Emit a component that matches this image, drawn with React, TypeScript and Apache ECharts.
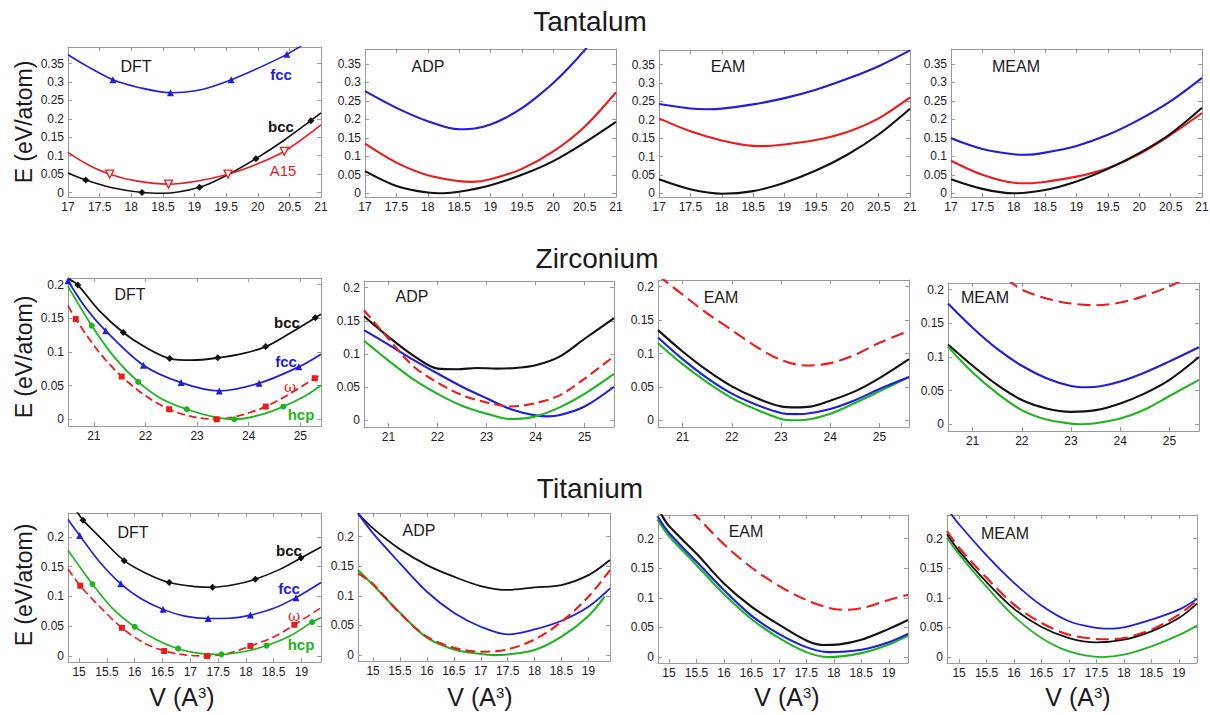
import React, { useEffect, useRef } from 'react';
import * as echarts from 'echarts';

type Pt = [number, number];

// ---------------- Tantalum ----------------
const taDftFcc: Pt[] = [[17, 0.374], [17.3, 0.343], [17.71, 0.306], [18.1, 0.286], [18.62, 0.271], [19.1, 0.279], [19.58, 0.306], [20, 0.337], [20.46, 0.375], [20.75, 0.405]];
const taDftFccMk: Pt[] = [[17.71, 0.306], [18.62, 0.271], [19.58, 0.306], [20.46, 0.375]];
const taDftBcc: Pt[] = [[17, 0.053], [17.28, 0.034], [17.7, 0.013], [18.17, 0.0], [18.5, -0.002], [19.08, 0.0145], [19.5, 0.046], [19.97, 0.092], [20.4, 0.14], [20.84, 0.195], [21, 0.216]];
const taDftBccMk: Pt[] = [[17.28, 0.034], [18.17, 0.0], [19.08, 0.0145], [19.97, 0.092], [20.84, 0.195]];
const taDftA15: Pt[] = [[17, 0.109], [17.3, 0.077], [17.66, 0.05], [18.1, 0.031], [18.59, 0.023], [19.0, 0.03], [19.53, 0.05], [20, 0.078], [20.42, 0.112], [21, 0.184]];
const taDftA15Mk: Pt[] = [[17.66, 0.05], [18.59, 0.023], [19.53, 0.05], [20.42, 0.112]];

const taAdpFcc: Pt[] = [[17, 0.276], [17.5, 0.231], [18, 0.195], [18.5, 0.173], [18.75, 0.175], [19, 0.186], [19.25, 0.205], [19.5, 0.23], [19.75, 0.262], [20, 0.298], [20.25, 0.34], [20.5, 0.387], [20.7, 0.43]];
const taAdpA15: Pt[] = [[17, 0.134], [17.5, 0.083], [18, 0.049], [18.5, 0.033], [18.7, 0.031], [19, 0.038], [19.5, 0.066], [20, 0.113], [20.5, 0.18], [21, 0.273]];
const taAdpBcc: Pt[] = [[17, 0.06], [17.5, 0.02], [18, 0.002], [18.25, 0.0], [18.5, 0.004], [19, 0.022], [19.5, 0.05], [20, 0.087], [20.5, 0.137], [21, 0.193]];

const taEamFcc: Pt[] = [[17, 0.243], [17.5, 0.231], [17.75, 0.2288], [18, 0.2305], [18.5, 0.242], [19, 0.259], [19.5, 0.282], [20, 0.3115], [20.5, 0.346], [21, 0.389]];
const taEamA15: Pt[] = [[17, 0.204], [17.5, 0.169], [18, 0.144], [18.5, 0.129], [18.65, 0.1283], [19, 0.133], [19.5, 0.145], [20, 0.167], [20.5, 0.204], [21, 0.261]];
const taEamBcc: Pt[] = [[17, 0.038], [17.5, 0.011], [18, -0.001], [18.5, 0.006], [19, 0.029], [19.5, 0.062], [20, 0.105], [20.5, 0.16], [21, 0.23]];

const taMeamFcc: Pt[] = [[17, 0.149], [17.5, 0.12], [18, 0.1055], [18.2, 0.104], [18.5, 0.11], [19, 0.128], [19.5, 0.158], [20, 0.199], [20.5, 0.249], [21, 0.312]];
const taMeamA15: Pt[] = [[17, 0.088], [17.5, 0.05], [18, 0.0285], [18.25, 0.027], [18.5, 0.031], [19, 0.045], [19.5, 0.068], [20, 0.106], [20.5, 0.158], [21, 0.217]];
const taMeamBcc: Pt[] = [[17, 0.038], [17.5, 0.012], [18, 0.0], [18.5, 0.009], [19, 0.032], [19.5, 0.066], [20, 0.1085], [20.5, 0.161], [21, 0.231]];

// ---------------- Zirconium ----------------
const zrDftBcc: Pt[] = [[20.5, 0.209], [20.69, 0.1995], [21.1, 0.162], [21.57, 0.129], [22, 0.107], [22.47, 0.0903], [22.9, 0.0878], [23.4, 0.0913], [23.9, 0.098], [24.33, 0.108], [24.8, 0.128], [25.29, 0.151], [25.4, 0.156]];
const zrDftBccMk: Pt[] = [[20.69, 0.1995], [21.57, 0.129], [22.47, 0.0903], [23.4, 0.0913], [24.33, 0.108], [25.29, 0.151]];
const zrDftFcc: Pt[] = [[20.5, 0.206], [20.85, 0.165], [21.23, 0.1315], [21.96, 0.0804], [22.69, 0.0546], [23.43, 0.0422], [24.2, 0.0536], [24.97, 0.0779], [25.4, 0.0968]];
const zrDftFccMk: Pt[] = [[20.5, 0.206], [21.23, 0.1315], [21.96, 0.0804], [22.69, 0.0546], [23.43, 0.0422], [24.2, 0.0536], [24.97, 0.0779]];
const zrDftHcp: Pt[] = [[20.5, 0.1975], [20.96, 0.139], [21.4, 0.092], [21.86, 0.0556], [22.3, 0.031], [22.8, 0.0149], [23.3, 0.004], [23.72, 0.0], [24.2, 0.006], [24.67, 0.0189], [25.1, 0.035], [25.4, 0.0506]];
const zrDftHcpMk: Pt[] = [[20.96, 0.139], [21.86, 0.0556], [22.8, 0.0149], [23.72, 0.0], [24.67, 0.0189]];
const zrDftOmega: Pt[] = [[20.5, 0.169], [20.65, 0.149], [21.1, 0.1], [21.54, 0.0635], [22, 0.035], [22.46, 0.0149], [22.9, 0.004], [23.38, 0.0], [23.85, 0.006], [24.33, 0.0189], [24.8, 0.038], [25.28, 0.061], [25.4, 0.0655]];
const zrDftOmegaMk: Pt[] = [[20.65, 0.149], [21.54, 0.0635], [22.46, 0.0149], [23.38, 0.0], [24.33, 0.0189], [25.28, 0.061]];

const zrAdpBcc: Pt[] = [[20.5, 0.157], [21, 0.126], [21.5, 0.098], [22, 0.078], [22.4, 0.077], [22.8, 0.079], [23.2, 0.078], [23.6, 0.079], [24, 0.083], [24.5, 0.0965], [25, 0.123], [25.6, 0.154]];
const zrAdpOmega: Pt[] = [[20.5, 0.166], [21, 0.123], [21.5, 0.082], [22, 0.057], [22.5, 0.038], [23, 0.027], [23.5, 0.021], [24, 0.026], [24.5, 0.038], [25, 0.063], [25.6, 0.0965]];
const zrAdpFcc: Pt[] = [[20.5, 0.136], [21, 0.114], [21.5, 0.0915], [22, 0.0706], [22.5, 0.0507], [23, 0.0333], [23.5, 0.0169], [24, 0.0075], [24.25, 0.006], [24.5, 0.008], [25, 0.0209], [25.6, 0.0507]];
const zrAdpHcp: Pt[] = [[20.5, 0.12], [21, 0.09], [21.5, 0.062], [22, 0.04], [22.5, 0.022], [23, 0.01], [23.5, 0.002], [24, 0.006], [24.5, 0.02], [25, 0.04], [25.6, 0.07]];

const zrEamOmega: Pt[] = [[20.5, 0.217], [21, 0.188], [21.5, 0.16], [22, 0.135], [22.5, 0.11], [23, 0.0905], [23.5, 0.082], [24, 0.0856], [24.5, 0.098], [25, 0.116], [25.6, 0.134]];
const zrEamBcc: Pt[] = [[20.5, 0.135], [21, 0.103], [21.5, 0.0746], [22, 0.0507], [22.5, 0.0333], [23, 0.0209], [23.3, 0.0194], [23.6, 0.0205], [24, 0.0294], [24.5, 0.0433], [25, 0.0632], [25.6, 0.0915]];
const zrEamFcc: Pt[] = [[20.5, 0.124], [21, 0.0915], [21.5, 0.0632], [22, 0.04], [22.5, 0.0234], [23, 0.011], [23.25, 0.0093], [23.5, 0.0099], [24, 0.0169], [24.5, 0.03], [25, 0.0468], [25.6, 0.0647]];
const zrEamHcp: Pt[] = [[20.5, 0.1154], [21, 0.084], [21.5, 0.0567], [22, 0.0333], [22.5, 0.016], [23, 0.002], [23.25, 0.0], [23.5, 0.0008], [24, 0.01], [24.5, 0.0259], [25, 0.0433], [25.6, 0.0647]];

const zrMeamOmega: Pt[] = [[21.7, 0.216], [22, 0.2], [22.5, 0.187], [23, 0.1795], [23.5, 0.177], [24, 0.181], [24.5, 0.191], [25, 0.205], [25.3, 0.216]];
const zrMeamFcc: Pt[] = [[20.5, 0.1795], [21, 0.1435], [21.5, 0.112], [22, 0.087], [22.5, 0.0685], [23, 0.057], [23.3, 0.055], [23.6, 0.0565], [24, 0.0635], [24.5, 0.077], [25, 0.0935], [25.6, 0.1145]];
const zrMeamBcc: Pt[] = [[20.5, 0.1185], [21, 0.087], [21.5, 0.0585], [22, 0.036], [22.5, 0.0235], [23, 0.0185], [23.5, 0.021], [24, 0.031], [24.5, 0.046], [25, 0.066], [25.6, 0.1]];
const zrMeamHcp: Pt[] = [[20.5, 0.115], [21, 0.077], [21.5, 0.046], [22, 0.021], [22.5, 0.007], [23, 0.001], [23.2, 0.0], [23.5, 0.0015], [24, 0.0085], [24.5, 0.022], [25, 0.042], [25.6, 0.066]];

// ---------------- Titanium ----------------
const tiDftBcc: Pt[] = [[14.85, 0.252], [14.97, 0.2406], [15.07, 0.228], [15.4, 0.197], [15.81, 0.16], [16.2, 0.139], [16.62, 0.1234], [17.1, 0.1165], [17.4, 0.1155], [17.8, 0.12], [18.17, 0.129], [18.6, 0.145], [18.99, 0.1645], [19.35, 0.183]];
const tiDftBccMk: Pt[] = [[15.07, 0.228], [15.81, 0.16], [16.62, 0.1234], [17.4, 0.1155], [18.17, 0.129], [18.99, 0.1645]];
const tiDftFcc: Pt[] = [[14.8, 0.229], [15.01, 0.2023], [15.35, 0.16], [15.75, 0.1211], [16.1, 0.097], [16.51, 0.0783], [16.9, 0.067], [17.32, 0.0631], [17.7, 0.0635], [18.08, 0.0687], [18.5, 0.08], [18.9, 0.098], [19.35, 0.1234]];
const tiDftFccMk: Pt[] = [[15.01, 0.2023], [15.75, 0.1211], [16.51, 0.0783], [17.32, 0.0631], [18.08, 0.0687], [18.9, 0.098]];
const tiDftHcp: Pt[] = [[14.8, 0.1775], [15.24, 0.1206], [15.6, 0.08], [16.0, 0.049], [16.4, 0.027], [16.78, 0.0124], [17.2, 0.004], [17.56, 0.0028], [18.0, 0.008], [18.37, 0.0175], [18.8, 0.034], [19.19, 0.0569], [19.35, 0.0648]];
const tiDftHcpMk: Pt[] = [[15.24, 0.1206], [16.0, 0.049], [16.78, 0.0124], [17.56, 0.0028], [18.37, 0.0175], [19.19, 0.0569]];
const tiDftOmega: Pt[] = [[14.8, 0.146], [15.02, 0.118], [15.4, 0.08], [15.77, 0.0473], [16.15, 0.023], [16.53, 0.0085], [16.9, 0.002], [17.3, 0.0], [17.7, 0.005], [18.08, 0.0169], [18.5, 0.032], [18.87, 0.0524], [19.35, 0.081]];
const tiDftOmegaMk: Pt[] = [[15.02, 0.118], [15.77, 0.0473], [16.53, 0.0085], [17.3, 0.0], [18.08, 0.0169], [18.87, 0.0524]];

const tiAdpBcc: Pt[] = [[14.72, 0.2394], [15, 0.214], [15.5, 0.1786], [16, 0.152], [16.5, 0.1324], [17, 0.1166], [17.5, 0.11], [18, 0.1144], [18.5, 0.1183], [19, 0.135], [19.4, 0.1606]];
const tiAdpFcc: Pt[] = [[14.72, 0.2394], [15, 0.2056], [15.5, 0.155], [16, 0.107], [16.5, 0.0716], [17, 0.0479], [17.5, 0.035], [18, 0.0434], [18.5, 0.058], [19, 0.0817], [19.4, 0.1127]];
const tiAdpOmega: Pt[] = [[14.72, 0.138], [15, 0.12], [15.5, 0.0704], [16, 0.031], [16.5, 0.0124], [17, 0.0056], [17.5, 0.0096], [18, 0.0265], [18.5, 0.0563], [19, 0.0986], [19.4, 0.1437]];
const tiAdpHcp: Pt[] = [[14.72, 0.1437], [15, 0.1183], [15.5, 0.0715], [16, 0.0293], [16.5, 0.0096], [17, 0.0017], [17.25, 0.0], [17.5, 0.001], [18, 0.0085], [18.5, 0.031], [19, 0.066], [19.3, 0.0986]];

const tiEamOmega: Pt[] = [[15.4, 0.247], [15.5, 0.238], [16, 0.1905], [16.5, 0.1513], [17, 0.1204], [17.5, 0.0964], [18, 0.0812], [18.2, 0.08], [18.5, 0.0825], [19, 0.0964], [19.35, 0.1053]];
const tiEamBcc: Pt[] = [[14.82, 0.25], [14.88, 0.238], [15, 0.2213], [15.5, 0.1748], [16, 0.1244], [16.5, 0.0852], [17, 0.0549], [17.5, 0.028], [17.8, 0.0205], [18.1, 0.0215], [18.5, 0.0291], [19, 0.0476], [19.35, 0.0627]];
const tiEamFcc: Pt[] = [[14.79, 0.238], [15, 0.21], [15.5, 0.1613], [16, 0.1131], [16.5, 0.07], [17, 0.0392], [17.5, 0.0168], [17.9, 0.0084], [18.5, 0.0123], [19, 0.0252], [19.35, 0.0392]];
const tiEamHcp: Pt[] = [[14.79, 0.2325], [15, 0.2045], [15.5, 0.1557], [16, 0.1064], [16.5, 0.0644], [17, 0.0325], [17.5, 0.0084], [17.9, 0.0], [18.5, 0.0067], [19, 0.0213], [19.35, 0.0364]];

const tiMeamFcc: Pt[] = [[14.8, 0.25], [14.86, 0.241], [15, 0.2243], [15.5, 0.1718], [16, 0.1254], [16.5, 0.087], [17, 0.0605], [17.5, 0.0492], [17.7, 0.048], [18, 0.0503], [18.5, 0.0633], [19, 0.0802], [19.33, 0.0983]];
const tiMeamOmega: Pt[] = [[14.78, 0.213], [15, 0.1847], [15.5, 0.1339], [16, 0.0887], [16.5, 0.0576], [17, 0.0379], [17.5, 0.0305], [17.65, 0.03], [18, 0.0322], [18.5, 0.0463], [19, 0.0718], [19.33, 0.0955]];
const tiMeamBcc: Pt[] = [[14.78, 0.2073], [15, 0.1791], [15.5, 0.1266], [16, 0.0814], [16.5, 0.0508], [17, 0.0322], [17.5, 0.0249], [18, 0.0294], [18.5, 0.0435], [19, 0.0661], [19.33, 0.0904]];
const tiMeamHcp: Pt[] = [[14.78, 0.2017], [15, 0.1734], [15.5, 0.1186], [16, 0.0689], [16.5, 0.0322], [17, 0.0096], [17.6, 0.0], [18, 0.004], [18.5, 0.0181], [19, 0.037], [19.33, 0.0531]];

// tick steps
const taXStep = 0.5, taYStep = 0.05;
const zrXStep = 1, zrYStep = 0.05;
const tiXStep = 0.5, tiYStep = 0.05;

const methods = ['DFT', 'ADP', 'EAM', 'MEAM'];
const elements = ['Tantalum', 'Zirconium', 'Titanium'];

const BLACK = '#111111';
const BLUE = '#1e1ee0';
const RED = '#ee1a1a';
const GREEN = '#1db51d';
const FONT = '"Liberation Sans", Arial, sans-serif';

interface Curve { data: Pt[]; color: string; dashed?: boolean; width?: number; }
interface Marks { data: Pt[]; color: string; symbol: string; size: number; rotate?: number; hollow?: boolean; }
interface Panel {
  grid: [number, number, number, number];
  x: [number, number]; y: [number, number];
  xStep: number; yStep: number; xSplit: number; ySplit: number;
  curves: Curve[]; marks?: Marks[];
  name: string; namePos: [number, number]; dash: number[];
}

const W = 2.1;
const LONG = [13, 6];
const SHORT = [8, 4];
const panels: Panel[] = [
  // Tantalum
  { grid: [68, 47, 253, 150], x: [17, 21], y: [-0.012, 0.395], xStep: taXStep, yStep: taYStep, xSplit: 8, ySplit: 8, name: methods[0], namePos: [136, 66], dash: SHORT,
    curves: [{ data: taDftFcc, color: BLUE, width: 1.6 }, { data: taDftBcc, color: BLACK, width: 1.6 }, { data: taDftA15, color: RED, width: 1.6 }],
    marks: [
      { data: taDftFccMk, color: BLUE, symbol: 'triangle', size: 7 },
      { data: taDftBccMk, color: BLACK, symbol: 'diamond', size: 7 },
      { data: taDftA15Mk, color: RED, symbol: 'triangle', size: 8, rotate: 180, hollow: true },
    ] },
  { grid: [365, 49, 251, 148], x: [17, 21], y: [-0.01, 0.39], xStep: taXStep, yStep: taYStep, xSplit: 8, ySplit: 8, name: methods[1], namePos: [428, 66], dash: LONG,
    curves: [{ data: taAdpFcc, color: BLUE }, { data: taAdpA15, color: RED }, { data: taAdpBcc, color: BLACK }] },
  { grid: [659, 50, 251, 147], x: [17, 21], y: [-0.01, 0.39], xStep: taXStep, yStep: taYStep, xSplit: 8, ySplit: 8, name: methods[2], namePos: [728, 66], dash: LONG,
    curves: [{ data: taEamFcc, color: BLUE }, { data: taEamA15, color: RED }, { data: taEamBcc, color: BLACK }] },
  { grid: [951, 49, 251, 148], x: [17, 21], y: [-0.01, 0.39], xStep: taXStep, yStep: taYStep, xSplit: 8, ySplit: 8, name: methods[3], namePos: [1016, 66], dash: LONG,
    curves: [{ data: taMeamFcc, color: BLUE }, { data: taMeamA15, color: RED }, { data: taMeamBcc, color: BLACK }] },
  // Zirconium
  { grid: [68, 278, 253, 148], x: [20.5, 25.4], y: [-0.01, 0.21], xStep: zrXStep, yStep: zrYStep, xSplit: 5, ySplit: 4, name: methods[0], namePos: [130, 294], dash: SHORT,
    curves: [{ data: zrDftBcc, color: BLACK, width: 1.8 }, { data: zrDftFcc, color: BLUE, width: 1.8 }, { data: zrDftOmega, color: RED, width: 1.8, dashed: true }, { data: zrDftHcp, color: GREEN, width: 1.8 }],
    marks: [
      { data: zrDftBccMk, color: BLACK, symbol: 'diamond', size: 7 },
      { data: zrDftFccMk, color: BLUE, symbol: 'triangle', size: 7 },
      { data: zrDftOmegaMk, color: RED, symbol: 'rect', size: 6 },
      { data: zrDftHcpMk, color: GREEN, symbol: 'circle', size: 6 },
    ] },
  { grid: [364, 281, 250, 146], x: [20.5, 25.6], y: [-0.01, 0.21], xStep: zrXStep, yStep: zrYStep, xSplit: 5, ySplit: 4, name: methods[1], namePos: [412, 296], dash: [10, 5],
    curves: [{ data: zrAdpBcc, color: BLACK }, { data: zrAdpFcc, color: BLUE }, { data: zrAdpHcp, color: GREEN }, { data: zrAdpOmega, color: RED, dashed: true }] },
  { grid: [658, 280, 251, 147], x: [20.5, 25.6], y: [-0.01, 0.21], xStep: zrXStep, yStep: zrYStep, xSplit: 5, ySplit: 4, name: methods[2], namePos: [721, 297], dash: LONG,
    curves: [{ data: zrEamOmega, color: RED, dashed: true }, { data: zrEamBcc, color: BLACK }, { data: zrEamHcp, color: GREEN }, { data: zrEamFcc, color: BLUE }] },
  { grid: [948, 283, 251, 148], x: [20.5, 25.6], y: [-0.01, 0.21], xStep: zrXStep, yStep: zrYStep, xSplit: 5, ySplit: 4, name: methods[3], namePos: [985, 297], dash: LONG,
    curves: [{ data: zrMeamOmega, color: RED, dashed: true }, { data: zrMeamFcc, color: BLUE }, { data: zrMeamBcc, color: BLACK }, { data: zrMeamHcp, color: GREEN }] },
  // Titanium
  { grid: [68, 513, 253, 149], x: [14.8, 19.35], y: [-0.01, 0.24], xStep: tiXStep, yStep: tiYStep, xSplit: 9, ySplit: 5, name: methods[0], namePos: [133, 532], dash: SHORT,
    curves: [{ data: tiDftBcc, color: BLACK, width: 1.6 }, { data: tiDftFcc, color: BLUE, width: 1.6 }, { data: tiDftOmega, color: RED, width: 1.6, dashed: true }, { data: tiDftHcp, color: GREEN, width: 1.6 }],
    marks: [
      { data: tiDftBccMk, color: BLACK, symbol: 'diamond', size: 7 },
      { data: tiDftFccMk, color: BLUE, symbol: 'triangle', size: 7 },
      { data: tiDftOmegaMk, color: RED, symbol: 'rect', size: 6 },
      { data: tiDftHcpMk, color: GREEN, symbol: 'circle', size: 6 },
    ] },
  { grid: [358, 513, 252, 148], x: [14.72, 19.4], y: [-0.01, 0.24], xStep: tiXStep, yStep: tiYStep, xSplit: 9, ySplit: 5, name: methods[1], namePos: [419, 530], dash: [10, 5],
    curves: [{ data: tiAdpBcc, color: BLACK, width: 1.8 }, { data: tiAdpFcc, color: BLUE, width: 1.8 }, { data: tiAdpHcp, color: GREEN }, { data: tiAdpOmega, color: RED, dashed: true }] },
  { grid: [658, 515, 250, 148], x: [14.8, 19.35], y: [-0.01, 0.24], xStep: tiXStep, yStep: tiYStep, xSplit: 9, ySplit: 5, name: methods[2], namePos: [746, 531], dash: LONG,
    curves: [{ data: tiEamOmega, color: RED, dashed: true }, { data: tiEamBcc, color: BLACK }, { data: tiEamHcp, color: GREEN }, { data: tiEamFcc, color: BLUE }] },
  { grid: [947, 515, 250, 148], x: [14.78, 19.33], y: [-0.01, 0.24], xStep: tiXStep, yStep: tiYStep, xSplit: 9, ySplit: 5, name: methods[3], namePos: [1005, 533], dash: LONG,
    curves: [{ data: tiMeamFcc, color: BLUE, width: 1.8 }, { data: tiMeamHcp, color: GREEN, width: 1.8 }, { data: tiMeamBcc, color: BLACK, width: 1.8 }, { data: tiMeamOmega, color: RED, dashed: true }] },
];

const AX = '#9a9a9a';

function valueAxis(gi: number, range: [number, number], step: number, split: number, pos: string, labels: boolean) {
  const k0 = range[0] / step;
  const aligned = Math.abs(k0 - Math.round(k0)) < 1e-9;
  return {
    type: 'value', gridIndex: gi, min: range[0], max: range[1], position: pos,
    splitNumber: split,
    ...(aligned ? { interval: step } : {}),
    axisLine: { show: true, onZero: false, lineStyle: { color: AX, width: 1 } },
    axisTick: { show: true, inside: true, length: 4, lineStyle: { color: AX, width: 1 } },
    axisLabel: {
      show: labels, margin: 4, fontFamily: FONT, fontSize: 12, color: '#1a1a1a',
      formatter: (v: number) => {
        const k = v / step;
        return Math.abs(k - Math.round(k)) < 1e-6 ? String(+v.toFixed(3)) : '';
      },
    },
    splitLine: { show: false },
  };
}

function text(x: number, y: number, s: string, font: string, fill: string, extra: any = {}) {
  return {
    type: 'text', x, y, silent: true, ...extra,
    style: { text: s, font, fill, textAlign: 'center', textVerticalAlign: 'middle', align: 'center', verticalAlign: 'middle' },
  };
}

function buildOption() {
  const grid: any[] = [];
  const xAxis: any[] = [];
  const yAxis: any[] = [];
  const series: any[] = [];
  panels.forEach((p, gi) => {
    grid.push({ left: p.grid[0], top: p.grid[1], width: p.grid[2], height: p.grid[3], containLabel: false, outerBoundsMode: 'none' });
    xAxis.push(valueAxis(gi, p.x, p.xStep, p.xSplit, 'bottom', true));
    xAxis.push(valueAxis(gi, p.x, p.xStep, p.xSplit, 'top', false));
    yAxis.push(valueAxis(gi, p.y, p.yStep, p.ySplit, 'left', true));
    yAxis.push(valueAxis(gi, p.y, p.yStep, p.ySplit, 'right', false));
    p.curves.forEach((c) => {
      series.push({
        type: 'line', xAxisIndex: 2 * gi, yAxisIndex: 2 * gi, data: c.data, smooth: 0.33,
        showSymbol: false, symbol: 'none', clip: true, silent: true,
        lineStyle: { color: c.color, width: c.width ?? W, type: c.dashed ? p.dash : 'solid' },
        z: 2,
      });
    });
    (p.marks || []).forEach((m) => {
      series.push({
        type: 'scatter', xAxisIndex: 2 * gi, yAxisIndex: 2 * gi, data: m.data, symbol: m.symbol,
        symbolSize: m.size, symbolRotate: m.rotate ?? 0, silent: true, clip: true,
        itemStyle: { color: m.hollow ? '#ffffff' : m.color, borderColor: m.color, borderWidth: m.hollow ? 1.3 : 0, opacity: 1 },
        z: 3,
      });
    });
  });

  const g: any[] = [];
  // row titles
  g.push(text(590, 21, elements[0], `28px ${FONT}`, '#1a1a1a'));
  g.push(text(597, 258, elements[1], `28px ${FONT}`, '#1a1a1a'));
  g.push(text(590, 488, elements[2], `28px ${FONT}`, '#1a1a1a'));
  // y axis names
  [122, 357, 585].forEach((y) => g.push(text(24, y, 'E (eV/atom)', `23px ${FONT}`, '#1a1a1a', { rotation: Math.PI / 2 })));
  // x axis names
  [182, 480, 787, 1078].forEach((x) => g.push({
    type: 'text', x, y: 697, silent: true,
    style: {
      text: '{a|V (A}{s|3}{a|)}', align: 'center', verticalAlign: 'middle', textAlign: 'center', textVerticalAlign: 'middle',
      rich: {
        a: { font: `25px ${FONT}`, fill: '#1a1a1a', verticalAlign: 'bottom' },
        s: { font: `15px ${FONT}`, fill: '#1a1a1a', verticalAlign: 'top' },
      },
    },
  }));
  // panel names
  panels.forEach((p) => g.push(text(p.namePos[0], p.namePos[1], p.name, `16px ${FONT}`, '#1a1a1a')));
  // curve labels in DFT panels
  const bold = `bold 15px ${FONT}`;
  g.push(text(281, 74, 'fcc', bold, BLUE));
  g.push(text(281, 126, 'bcc', bold, BLACK));
  g.push(text(283, 170, 'A15', `15px ${FONT}`, RED));
  g.push(text(287, 322, 'bcc', bold, BLACK));
  g.push(text(286, 361, 'fcc', bold, BLUE));
  g.push(text(290, 387, 'ω', `15px "DejaVu Serif", serif`, RED));
  g.push(text(301, 414, 'hcp', bold, GREEN));
  g.push(text(289, 550, 'bcc', bold, BLACK));
  g.push(text(289, 588, 'fcc', bold, BLUE));
  g.push(text(294, 616, 'ω', `15px "DejaVu Serif", serif`, RED));
  g.push(text(301, 644, 'hcp', bold, GREEN));

  return {
    animation: false,
    backgroundColor: '#ffffff',
    grid, xAxis, yAxis, series,
    graphic: { elements: g },
  };
}

export default function App() {
  const ref = useRef<HTMLDivElement>(null);
  useEffect(() => {
    if (!ref.current) return;
    const chart = echarts.init(ref.current, null, { renderer: 'svg' });
    chart.setOption(buildOption() as any);
    return () => chart.dispose();
  }, []);
  return <div ref={ref} style={{ position: 'fixed', left: 0, top: 0, width: 1210, height: 715, background: '#fff' }} />;
}
